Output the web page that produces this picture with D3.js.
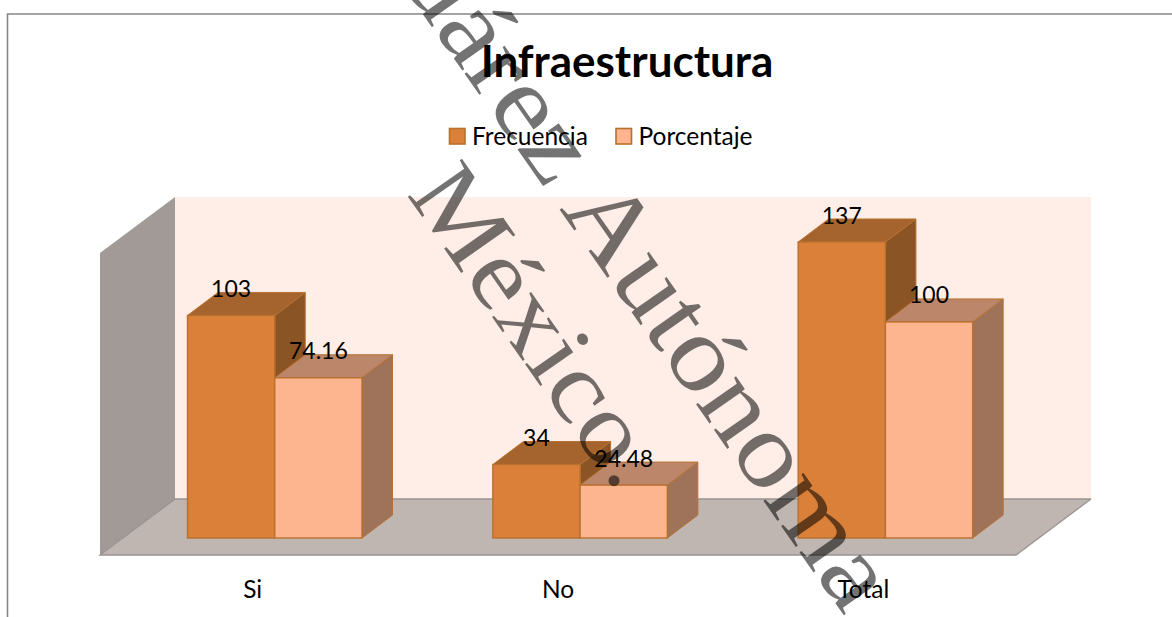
<!DOCTYPE html>
<html>
<head>
<meta charset="utf-8">
<script src="https://cdn.jsdelivr.net/npm/d3@7"></script>
<style>
html,body{margin:0;padding:0;background:#fff;overflow:hidden}
svg{display:block}
text{font-family:Lato,"Open Sans",sans-serif;fill:#000}
</style>
</head>
<body>
<svg id="chart" width="1172" height="617"></svg>
<script>
const titleText = "Infraestructura";
const categories = ["Si", "No", "Total"];
const seriesNames = ["Frecuencia", "Porcentaje"];
const frecuencia = [103, 34, 137];
const porcentaje = [74.16, 24.48, 100];
const watermarkLine1 = "Juárez Autónoma";
const watermarkLine2 = "México";

const W = 1172, H = 617;
const svg = d3.select("#chart");

const floorFront = 555, floorBack = 499, wallTop = 197;
const frontLeft = 100, frontRight = 1016, backLeft = 175, backRight = 1091;
const baseY = 538, topY = 242;
const depthX = 30.5, depthY = 23;

const x = d3.scaleBand().domain(categories).range([frontLeft, frontRight]);
const inner = d3.scaleBand().domain(seriesNames).range([87.5, 262]);
const y = d3.scaleLinear().domain([0, 137]).range([baseY, topY]);

const palette = {
  Frecuencia: {front:"#da8039", top:"#a5642d", side:"#8a5425"},
  Porcentaje: {front:"#fcb58e", top:"#bb866a", side:"#9f7359"}
};
const edge = "#b8702f";

// frame
svg.append("path").attr("d", `M7.5,${H}V14H${W}`).attr("fill","none")
  .attr("stroke","#868686").attr("stroke-width",1.6);

// walls and floor
const poly = pts => "M" + pts.map(p => p.join(",")).join("L") + "Z";
svg.append("rect").attr("x",backLeft).attr("y",wallTop)
  .attr("width",backRight-backLeft).attr("height",floorBack-wallTop)
  .attr("fill","#feeee7");
svg.append("path").attr("d",poly([[frontLeft,wallTop+56],[backLeft,wallTop],[backLeft,floorBack],[frontLeft,floorFront]]))
  .attr("fill","#a29a96");
svg.append("path").attr("d",poly([[frontLeft,floorFront],[backLeft,floorBack],[backRight,floorBack],[frontRight,floorFront]]))
  .attr("fill","#bfb5b1");
svg.append("path").attr("d",`M${backRight},${floorBack}L${frontRight},${floorFront}H${frontLeft}L${backLeft},${floorBack}H${backRight}`)
  .attr("fill","none").attr("stroke","#989492").attr("stroke-width",1.3);

// bars
const rows = [];
categories.forEach((c,i)=>{
  rows.push({c, s:"Frecuencia", v:frecuencia[i]});
  rows.push({c, s:"Porcentaje", v:porcentaje[i]});
});
const bars = svg.append("g").selectAll("g").data(rows).join("g");
const x0 = d => x(d.c) + inner(d.s);
const x1 = d => x0(d) + inner.bandwidth();
bars.append("path").attr("d", d => poly([[x1(d),y(d.v)],[x1(d)+depthX,y(d.v)-depthY],[x1(d)+depthX,baseY-depthY],[x1(d),baseY]]))
  .attr("fill", d => palette[d.s].side).attr("stroke",edge).attr("stroke-width",1);
bars.append("path").attr("d", d => poly([[x0(d),y(d.v)],[x0(d)+depthX,y(d.v)-depthY],[x1(d)+depthX,y(d.v)-depthY],[x1(d),y(d.v)]]))
  .attr("fill", d => palette[d.s].top).attr("stroke",edge).attr("stroke-width",1);
bars.append("rect").attr("x",x0).attr("y",d=>y(d.v)).attr("width",inner.bandwidth())
  .attr("height",d=>baseY-y(d.v)).attr("fill",d=>palette[d.s].front)
  .attr("stroke",edge).attr("stroke-width",1.4);

// watermark
const wm = svg.append("g").attr("fill","#000").attr("fill-opacity",0.55);
const wmText = (t, tx, ty, fs) => wm.append("text")
  .attr("transform",`translate(${tx},${ty}) rotate(55) scale(1,0.9)`)
  .style("fill","#000").style("font-family",'"Liberation Serif",serif').style("font-size",fs+"px").text(t);
wmText(watermarkLine1, 373, -57, 118);
wmText(watermarkLine2, 406, 194, 112);
wm.append("circle").attr("cx",614).attr("cy",480.7).attr("r",5.5);

// data labels
svg.append("g").selectAll("text").data(rows).join("text")
  .attr("x", d => (x0(d)+x1(d))/2).attr("y", d => y(d.v)-18.5)
  .attr("text-anchor","middle").style("font-size","23px").text(d => d.v);

// category axis
const axis = svg.append("g").attr("transform","translate(0,590)")
  .call(d3.axisBottom(x).tickSize(0).tickPadding(0));
axis.select(".domain").remove();
axis.selectAll("text").attr("y",8).attr("dy",0).style("font-size","24.5px").style("font-family","Lato");

// title
svg.append("text").attr("x",627).attr("y",77).attr("text-anchor","middle")
  .style("font-size","44px").style("font-weight","700").text(titleText);

// legend
const legendX = [449.5, 616];
const lg = svg.append("g").selectAll("g").data(seriesNames).join("g")
  .attr("transform",(d,i)=>`translate(${legendX[i]},128.5)`);
lg.append("rect").attr("width",15.5).attr("height",15.5)
  .attr("fill",d=>palette[d].front).attr("stroke",edge).attr("stroke-width",1.6);
lg.append("text").attr("x",22.5).attr("y",16).style("font-size","24.5px").text(d=>d);
</script>
</body>
</html>
